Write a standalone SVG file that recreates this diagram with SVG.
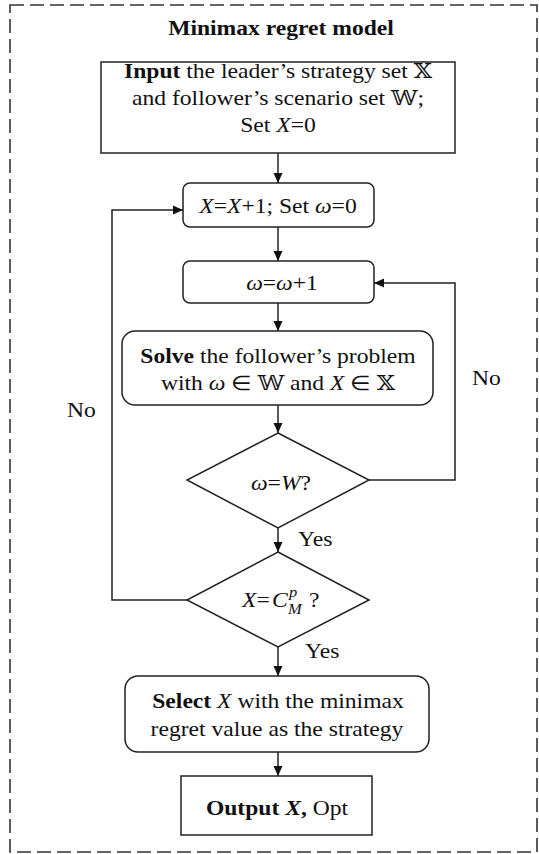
<svg xmlns="http://www.w3.org/2000/svg" width="539" height="854" viewBox="0 0 539 854">
<style>
.t{font-family:"Liberation Serif","Times New Roman",serif;font-size:20px;fill:#111}
.m{text-anchor:middle}
.b{font-weight:bold}
.i{font-style:italic}
.ds{font-family:"DejaVu Serif","DejaVu Sans","Noto Sans",serif;font-style:normal;font-weight:normal}
.sm{font-size:14px}
.box{fill:#fff;stroke:#222;stroke-width:1.5}
.ln{fill:none;stroke:#222;stroke-width:1.5}
.frame{fill:none;stroke:#333;stroke-width:1.6;stroke-dasharray:14 6}
</style>
<defs>
<marker id="ah" markerUnits="userSpaceOnUse" markerWidth="10" markerHeight="10" refX="10" refY="5" orient="auto">
<path d="M0,0.5 L10,5 L0,9.5 z" fill="#111"/>
</marker>
</defs>
<rect width="539" height="854" fill="#fff"/>
<rect id="frame" class="frame" x="10" y="5" width="527" height="847"/>
<text id="title" class="t m b" transform="translate(281,35) scale(1.18,1)">Minimax regret model</text>

<g id="connectors">
<line class="ln" x1="278" y1="153" x2="278" y2="183" marker-end="url(#ah)"/>
<line class="ln" x1="278" y1="227" x2="278" y2="261" marker-end="url(#ah)"/>
<line class="ln" x1="278" y1="303" x2="278" y2="331" marker-end="url(#ah)"/>
<line class="ln" x1="278" y1="405" x2="278" y2="433" marker-end="url(#ah)"/>
<line class="ln" x1="278" y1="528" x2="278" y2="552" marker-end="url(#ah)"/>
<line class="ln" x1="278" y1="647" x2="278" y2="676" marker-end="url(#ah)"/>
<line class="ln" x1="278" y1="752" x2="278" y2="776" marker-end="url(#ah)"/>
<polyline class="ln" points="369,480 455,480 455,283 374,283" marker-end="url(#ah)"/>
<polyline class="ln" points="187,600 112,600 112,210 183,210" marker-end="url(#ah)"/>
<text class="t" transform="translate(472,385) scale(1.18,1)">No</text>
<text class="t" transform="translate(67,417) scale(1.18,1)">No</text>
<text class="t" transform="translate(298,546) scale(1.18,1)">Yes</text>
<text class="t" transform="translate(305,658) scale(1.18,1)">Yes</text>
</g>

<g id="input">
<rect class="box" x="101" y="62" width="354" height="91"/>
<text class="t m" transform="translate(278,78) scale(1.18,1)"><tspan class="b">Input</tspan> the leader’s strategy set <tspan class="ds">𝕏</tspan></text>
<text class="t m" transform="translate(278,105) scale(1.18,1)">and follower’s scenario set <tspan class="ds">𝕎</tspan>;</text>
<text class="t m" transform="translate(278,132) scale(1.18,1)">Set <tspan class="i">X</tspan>=0</text>
</g>

<g id="incX">
<rect class="box" x="183" y="183" width="191" height="44" rx="7"/>
<text class="t m" transform="translate(278,213) scale(1.18,1)"><tspan class="i">X</tspan>=<tspan class="i">X</tspan>+1; Set <tspan class="i">ω</tspan>=0</text>
</g>

<g id="incW">
<rect class="box" x="183" y="261" width="191" height="42" rx="7"/>
<text class="t m" transform="translate(282,290) scale(1.18,1)"><tspan class="i">ω</tspan>=<tspan class="i">ω</tspan>+1</text>
</g>

<g id="solve">
<rect class="box" x="122" y="331" width="311" height="74" rx="13"/>
<text class="t m" transform="translate(278,363) scale(1.18,1)"><tspan class="b">Solve</tspan> the follower’s problem</text>
<text class="t m" transform="translate(278,390) scale(1.18,1)">with <tspan class="i">ω</tspan> ∈ <tspan class="ds">𝕎</tspan> and <tspan class="i">X</tspan> ∈ <tspan class="ds">𝕏</tspan></text>
</g>

<g id="dec1">
<polygon class="box" points="278,433 369,480 278,528 187,480"/>
<text class="t m" transform="translate(281,490) scale(1.18,1)"><tspan class="i">ω</tspan>=<tspan class="i">W</tspan>?</text>
</g>

<g id="dec2">
<polygon class="box" points="278,552 369,600 278,647 187,600"/>
<text class="t" transform="translate(242,607) scale(1.18,1)"><tspan class="i">X</tspan>=</text>
<text class="t i" transform="translate(272,607) scale(1.18,1)">C</text>
<text class="t i sm" transform="translate(289,597) scale(1.18,1)">p</text>
<text class="t i sm" transform="translate(288,614) scale(1.18,1)">M</text>
<text class="t" transform="translate(309,607) scale(1.18,1)">?</text>
</g>

<g id="select">
<rect class="box" x="125" y="676" width="304" height="76" rx="13"/>
<text class="t m" transform="translate(278,708) scale(1.18,1)"><tspan class="b">Select</tspan> <tspan class="i">X</tspan> with the minimax</text>
<text class="t m" transform="translate(277,736) scale(1.18,1)">regret value as the strategy</text>
</g>

<g id="output">
<rect class="box" x="181" y="776" width="191" height="59"/>
<text class="t m" transform="translate(277,815) scale(1.18,1)"><tspan class="b">Output</tspan> <tspan class="i b">X</tspan><tspan class="b">,</tspan> Opt</text>
</g>
</svg>
